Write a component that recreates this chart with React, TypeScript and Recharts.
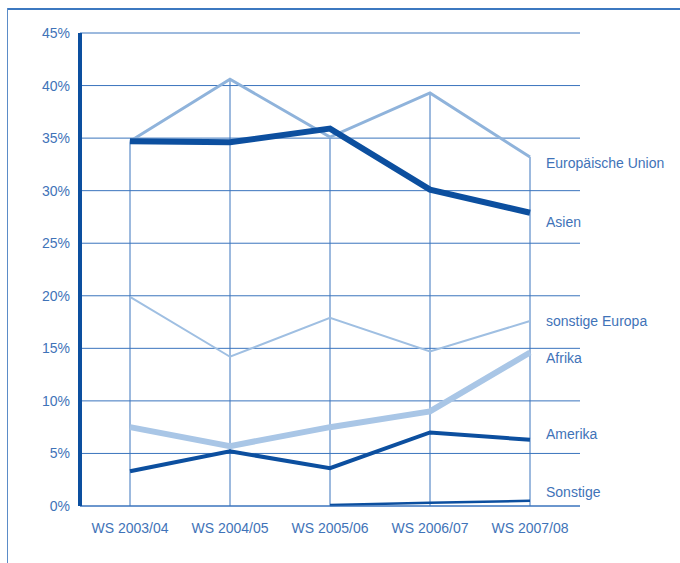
import * as React from "react";
import { LineChart, Line, XAxis, YAxis, CartesianGrid, ReferenceLine } from "recharts";

const terms = ["WS 2003/04", "WS 2004/05", "WS 2005/06", "WS 2006/07", "WS 2007/08"];
const yTicks = [0, 5, 10, 15, 20, 25, 30, 35, 40, 45];

const europaeischeUnion = [34.7, 40.6, 35.1, 39.3, 33.2];
const asien = [34.7, 34.6, 35.9, 30.1, 27.9];
const sonstigeEuropa = [19.9, 14.2, 17.9, 14.7, 17.6];
const afrika = [7.5, 5.7, 7.5, 9.0, 14.6];
const amerika = [3.3, 5.2, 3.6, 7.0, 6.3];
const sonstige = [null, null, 0.1, 0.3, 0.5];

const data = terms.map((term, i) => ({
    term,
    eu: europaeischeUnion[i],
    asien: asien[i],
    sonstigeEuropa: sonstigeEuropa[i],
    afrika: afrika[i],
    amerika: amerika[i],
    sonstige: sonstige[i],
}));

const DARK = "#0c4f9f";
const GRID = "#3a74bd";
const TEXT = "#3f73b8";
const FONT = "'Liberation Sans', Arial, sans-serif";

// drawing order matters: later series lie on top
const series = [
    { key: "sonstigeEuropa", name: "sonstige Europa", color: "#9fbfe2", width: 2, dy: 0 },
    { key: "eu", name: "Europäische Union", color: "#8fb3db", width: 3, dy: 6 },
    { key: "afrika", name: "Afrika", color: "#a9c6e6", width: 6, dy: 6 },
    { key: "asien", name: "Asien", color: DARK, width: 6, dy: 9 },
    { key: "amerika", name: "Amerika", color: DARK, width: 4, dy: -6 },
    { key: "sonstige", name: "Sonstige", color: DARK, width: 2.5, dy: -9 },
];

const endLabel = (name: string, dy: number) => (props: any) => {
    if (props.index !== terms.length - 1) return null;
    return (
        <text x={props.x + 16} y={props.y + dy} dy="0.35em" fill={TEXT} fontSize={14} fontFamily={FONT}>
            {name}
        </text>
    );
};

export default function App() {
    return (
        <div style={{ position: "absolute", left: 0, top: 0, width: 680, height: 563, background: "#fff" }}>
            <div style={{ position: "absolute", left: 7, top: 8, width: 673, height: 2, background: "#3c78c0" }} />
            <div style={{ position: "absolute", left: 7, top: 8, width: 1, height: 555, background: "#5b8cc8" }} />
            <LineChart
                width={680}
                height={563}
                data={data}
                margin={{ top: 33, right: 100, bottom: 27, left: 10 }}
                style={{ position: "absolute", left: 0, top: 0 }}
            >
                <CartesianGrid vertical={false} stroke={GRID} strokeWidth={1} />
                <XAxis
                    dataKey="term"
                    type="category"
                    padding={{ left: 50, right: 50 }}
                    interval={0}
                    tickLine={false}
                    axisLine={{ stroke: GRID }}
                    tickMargin={11}
                    height={30}
                    tick={{ fill: TEXT, fontSize: 14, fontFamily: FONT }}
                />
                <YAxis
                    type="number"
                    domain={[0, 45]}
                    ticks={yTicks}
                    interval={0}
                    width={70}
                    tickLine={false}
                    axisLine={{ stroke: DARK, strokeWidth: 4 }}
                    tickMargin={4}
                    tickFormatter={(v: number) => `${v}%`}
                    tick={{ fill: TEXT, fontSize: 14, fontFamily: FONT }}
                />
                {terms.map((t, i) => (
                    <ReferenceLine
                        key={t}
                        segment={[{ x: t, y: 0 }, { x: t, y: europaeischeUnion[i] }]}
                        stroke={GRID}
                        strokeWidth={1}
                    />
                ))}
                {series.map((s) => (
                    <Line
                        key={s.key}
                        dataKey={s.key}
                        type="linear"
                        stroke={s.color}
                        strokeWidth={s.width}
                        dot={false}
                        activeDot={false}
                        isAnimationActive={false}
                        label={endLabel(s.name, s.dy)}
                    />
                ))}
            </LineChart>
        </div>
    );
}
